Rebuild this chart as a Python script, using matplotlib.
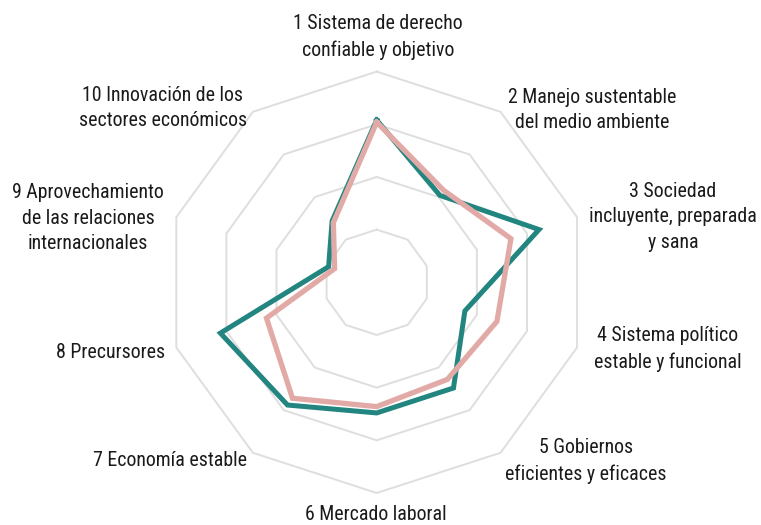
import numpy as np
import matplotlib
matplotlib.use("Agg")
import matplotlib.pyplot as plt
from matplotlib import font_manager

categories = [
    "1 Sistema de derecho\nconfiable y objetivo",
    "2 Manejo sustentable\ndel medio ambiente",
    "3 Sociedad\nincluyente, preparada\ny sana",
    "4 Sistema político\nestable y funcional",
    "5 Gobiernos\neficientes y eficaces",
    "6 Mercado laboral",
    "7 Economía estable",
    "8 Precursores",
    "9 Aprovechamiento\nde las relaciones\ninternacionales",
    "10 Innovación de los\nsectores económicos",
]
serie_a = [77, 51, 81, 44, 62, 62, 72, 78, 24, 36]   # teal
serie_b = [76, 54, 67, 60, 57, 59, 68, 55, 21, 35]   # pink
ring_levels = [25, 50, 75, 100]

names = {f.name for f in font_manager.fontManager.ttflist}
family = "DejaVu Sans"
size = 11
for cand, sz in [("Roboto Condensed", 14.3), ("Liberation Sans Narrow", 15), ("DejaVu Sans Condensed", 12)]:
    if cand in names:
        family, size = cand, sz
        break

W, H = 761, 525
fig = plt.figure(figsize=(W / 100, H / 100), dpi=100)
cx, cy, R = 376.7, 282.3, 210.7
ax = fig.add_axes([(cx - R) / W, (H - cy - R) / H, 2 * R / W, 2 * R / H], projection="polar")
ax.set_theta_zero_location("N")
ax.set_theta_direction(-1)
ax.set_ylim(0, 100)
ax.axis("off")

n = len(categories)
theta = np.linspace(0, 2 * np.pi, n, endpoint=False)
theta_c = np.append(theta, theta[0])

for lv in ring_levels:
    ax.plot(theta_c, [lv] * (n + 1), color="#dedede", lw=1.4, zorder=1, clip_on=False)

ax.plot(theta_c, serie_a + serie_a[:1], color="#23857f", lw=3.6, zorder=3,
        solid_joinstyle="miter", clip_on=False)
ax.plot(theta_c, serie_b + serie_b[:1], color="#e2aaa6", lw=3.8, zorder=4,
        solid_joinstyle="miter", clip_on=False)

# label block centers in pixels
label_pos = [(378, 37), (592, 110), (673, 217), (668, 349), (586, 461),
             (376, 515), (170, 461), (111, 352), (88, 218), (163, 108)]
for txt, (x, y) in zip(categories, label_pos):
    fig.text(x / W, 1 - y / H, txt, ha="center", va="center", multialignment="center",
             fontsize=size, family=family, color="#1a1a1a", linespacing=1.45)

fig.savefig("out.png", dpi=100)
